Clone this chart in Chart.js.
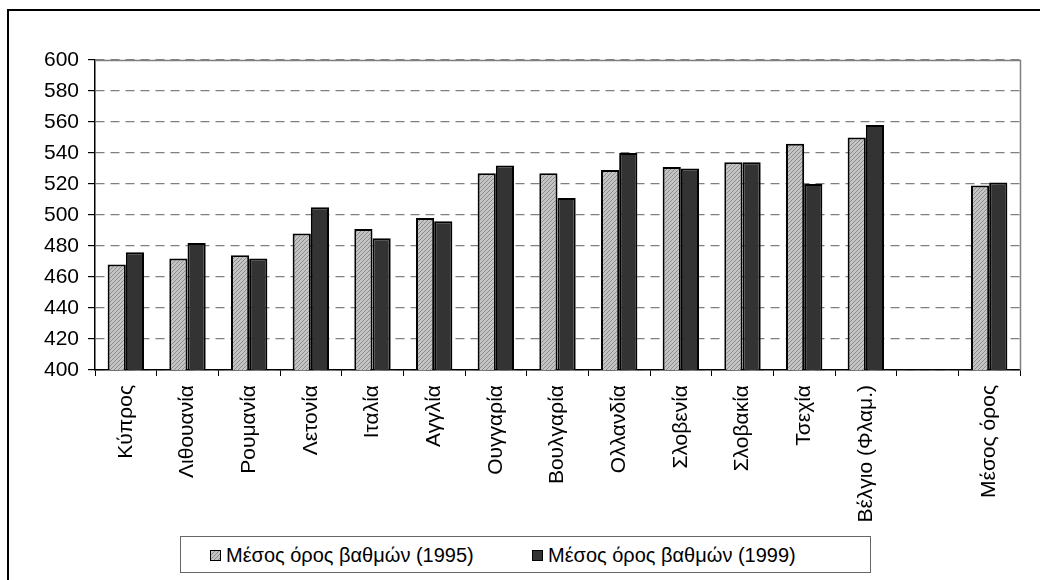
<!DOCTYPE html>
<html lang="el">
<head>
  <meta charset="UTF-8">
  <title>Μέσος όρος βαθμών 1995 - 1999</title>
  <script src="https://cdn.jsdelivr.net/npm/chart.js"></script>
  <style>
    html, body { margin: 0; padding: 0; background: #fff; overflow: hidden; }
    body { width: 1040px; height: 580px; position: relative; font-family: "Liberation Sans", Arial, sans-serif; }
    #frame { position: absolute; left: 7px; top: 9px; width: 1100px; height: 700px; border: 2px solid #000; }
    #wrap { position: absolute; left: 0; top: 0; width: 1040px; height: 580px; }
    #legend { position: absolute; left: 180px; top: 536px; width: 689px; height: 35px; border: 1px solid #666;
      background: #fff; font-size: 20px; color: #000; }
    .item { position: absolute; top: 6px; white-space: nowrap; line-height: 24px; }
    .box { display: inline-block; width: 9px; height: 9px; border: 1.5px solid #000; margin-right: 5px; vertical-align: 1px; }
  </style>
</head>
<body>
  <div id="frame"></div>
  <div id="wrap"><canvas id="chartCanvas" width="1040" height="580"></canvas></div>
  <div id="legend">
    <span class="item" style="left:29px"><span class="box" id="box95"></span>Μέσος όρος βαθμών (1995)</span>
    <span class="item" style="left:351px"><span class="box" style="background:#333"></span>Μέσος όρος βαθμών (1999)</span>
  </div>

  <script>
    const categories = ['Κύπρος', 'Λιθουανία', 'Ρουμανία', 'Λετονία', 'Ιταλία', 'Αγγλία', 'Ουγγαρία',
      'Βουλγαρία', 'Ολλανδία', 'Σλοβενία', 'Σλοβακία', 'Τσεχία', 'Βέλγιο (Φλαμ.)', '', 'Μέσος όρος'];
    const scores1995 = [468, 472, 474, 488, 491, 498, 527, 527, 529, 531, 534, 546, 550, null, 519];
    const scores1999 = [476, 482, 472, 505, 485, 496, 532, 511, 540, 530, 534, 520, 558, null, 521];
    const yMin = 400, yMax = 600, yStep = 20;

    // γραμμοσκίαση για τη σειρά 1995
    function makeHatch() {
      const c = document.createElement('canvas');
      c.width = 4; c.height = 4;
      const g = c.getContext('2d');
      g.fillStyle = '#c4c4c4';
      g.fillRect(0, 0, 4, 4);
      g.strokeStyle = '#8c8c8c';
      g.lineWidth = 1;
      g.beginPath();
      g.moveTo(-1, 5); g.lineTo(5, -1);
      g.moveTo(-1, 1); g.lineTo(1, -1);
      g.moveTo(3, 5); g.lineTo(5, 3);
      g.stroke();
      return c;
    }
    const hatchCanvas = makeHatch();
    document.getElementById('box95').style.background = 'url(' + hatchCanvas.toDataURL() + ')';

    const ctx = document.getElementById('chartCanvas').getContext('2d');
    const hatch = ctx.createPattern(hatchCanvas, 'repeat');

    const plotFrame = {
      id: 'plotFrame',
      afterDatasetsDraw(chart) {
        const a = chart.chartArea, c = chart.ctx;
        c.save();
        c.strokeStyle = '#808080';
        c.lineWidth = 1.5;
        c.beginPath();
        c.moveTo(a.left, a.top + 0.5);
        c.lineTo(a.right + 0.5, a.top + 0.5);
        c.lineTo(a.right + 0.5, a.bottom);
        c.stroke();
        c.restore();
      }
    };

    new Chart(ctx, {
      type: 'bar',
      data: {
        labels: categories,
        datasets: [
          { label: 'Μέσος όρος βαθμών (1995)', data: scores1995, backgroundColor: hatch,
            borderColor: '#000', borderWidth: 2, borderSkipped: 'bottom' },
          { label: 'Μέσος όρος βαθμών (1999)', data: scores1999, backgroundColor: '#333333',
            borderColor: '#000', borderWidth: 2, borderSkipped: 'bottom' }
        ]
      },
      options: {
        responsive: false,
        animation: false,
        events: [],
        layout: { padding: { top: 60, right: 20, left: 0, bottom: 0 } },
        datasets: { bar: { barPercentage: 1, categoryPercentage: 0.59 } },
        plugins: { legend: { display: false }, tooltip: { enabled: false } },
        scales: {
          x: {
            grid: { offset: true, drawOnChartArea: false, color: '#000', tickLength: 6 },
            border: { color: '#000', width: 1.5 },
            ticks: { autoSkip: false, minRotation: 90, maxRotation: 90, padding: 9, color: '#000',
              font: { family: '"Liberation Sans", Arial', size: 21 } },
            afterFit(scale) { scale.height = 210; }
          },
          y: {
            min: yMin, max: yMax,
            grid: { color: '#808080', lineWidth: 1.2, tickColor: '#000', tickLength: 7 },
            border: { color: '#000', width: 1.5, dash: [9, 6] },
            ticks: { stepSize: yStep, padding: 9, color: '#000',
              font: { family: '"Liberation Sans", Arial', size: 21 } },
            afterFit(scale) { scale.width = 95; }
          }
        }
      },
      plugins: [plotFrame]
    });
  </script>
</body>
</html>
